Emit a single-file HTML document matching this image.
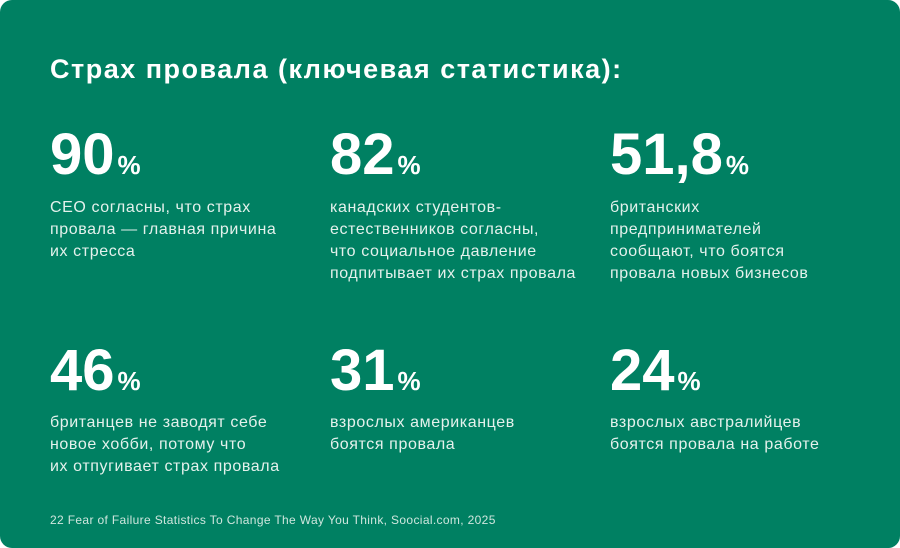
<!DOCTYPE html>
<html><head><meta charset="utf-8"><style>
html,body{margin:0;padding:0;background:#fff;}
#card{position:absolute;left:0;top:0;width:900px;height:548px;background:#008062;border-radius:12px;overflow:hidden;font-family:"Liberation Sans","Noto Sans CJK SC",sans-serif;color:#fff;}
.t{position:absolute;white-space:nowrap;}
#title{left:50px;top:53px;font-size:27px;letter-spacing:1.5px;font-weight:bold;line-height:32px;}
.num{position:absolute;font-size:58px;font-weight:bold;line-height:58px;white-space:nowrap;}
.num span{font-size:26px;margin-left:3px;}
.desc{position:absolute;font-size:16px;letter-spacing:0.6px;line-height:22px;color:#e4f1ec;white-space:nowrap;}
#foot{left:50px;top:513px;font-size:12px;letter-spacing:0.35px;color:#cfe6de;}
</style></head><body>
<div id="card">
<div class="t" id="title">Страх провала (ключевая статистика):</div>

<div class="num" style="left:50px;top:126px">90<span>%</span></div>
<div class="desc" style="left:50px;top:197px">CEO согласны, что страх<br>провала — главная причина<br>их стресса</div>

<div class="num" style="left:330px;top:126px">82<span>%</span></div>
<div class="desc" style="left:330px;top:197px">канадских студентов-<br>естественников согласны,<br>что социальное давление<br>подпитывает их страх провала</div>

<div class="num" style="left:610px;top:126px">51,8<span>%</span></div>
<div class="desc" style="left:610px;top:197px">британских<br>предпринимателей<br>сообщают, что боятся<br>провала новых бизнесов</div>

<div class="num" style="left:50px;top:342px">46<span>%</span></div>
<div class="desc" style="left:50px;top:412px">британцев не заводят себе<br>новое хобби, потому что<br>их отпугивает страх провала</div>

<div class="num" style="left:330px;top:342px">31<span>%</span></div>
<div class="desc" style="left:330px;top:412px">взрослых американцев<br>боятся провала</div>

<div class="num" style="left:610px;top:342px">24<span>%</span></div>
<div class="desc" style="left:610px;top:412px">взрослых австралийцев<br>боятся провала на работе</div>

<div class="t" id="foot">22 Fear of Failure Statistics To Change The Way You Think, Soocial.com, 2025</div>
</div>
</body></html>
